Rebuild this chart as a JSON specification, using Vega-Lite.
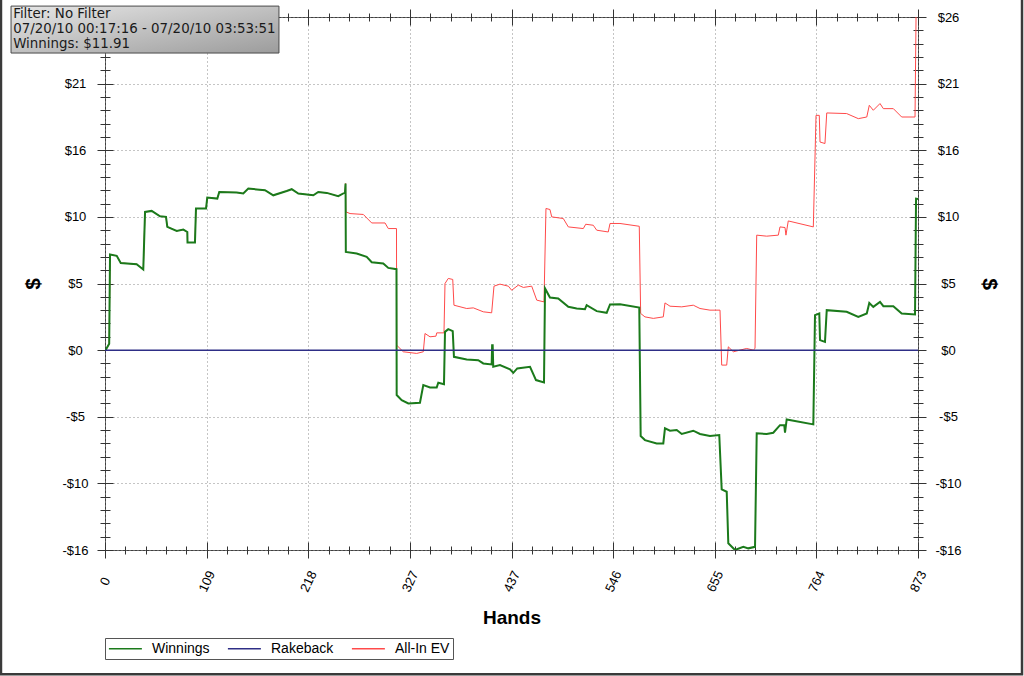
{
  "$schema": "https://vega.github.io/schema/vega-lite/v6.json",
  "width": 813,
  "height": 533,
  "autosize": {"type": "none"},
  "padding": {"left": 105, "top": 17, "right": 106, "bottom": 126},
  "background": "white",
  "datasets": {
    "winnings": [
      {"hand": 0, "value": 0}, {"hand": 1, "value": 0.05}, {"hand": 4.5, "value": 0.5}, {"hand": 5.4, "value": 7.53},
      {"hand": 12.6, "value": 7.43}, {"hand": 16.9, "value": 6.87}, {"hand": 34, "value": 6.77}, {"hand": 41.1, "value": 6.35},
      {"hand": 43, "value": 10.89}, {"hand": 50.1, "value": 10.97}, {"hand": 59.1, "value": 10.55}, {"hand": 65.5, "value": 10.5},
      {"hand": 66.9, "value": 9.71}, {"hand": 77, "value": 9.39}, {"hand": 84.1, "value": 9.5}, {"hand": 88.4, "value": 9.31},
      {"hand": 88.6, "value": 8.48}, {"hand": 96.6, "value": 8.48}, {"hand": 97.7, "value": 11.16}, {"hand": 108.5, "value": 11.16},
      {"hand": 109.8, "value": 12.02}, {"hand": 120.6, "value": 11.94}, {"hand": 122.7, "value": 12.46}, {"hand": 141.4, "value": 12.42},
      {"hand": 148.5, "value": 12.34}, {"hand": 153.9, "value": 12.73}, {"hand": 171.8, "value": 12.6}, {"hand": 180.7, "value": 12.2},
      {"hand": 195.1, "value": 12.54}, {"hand": 200.5, "value": 12.68}, {"hand": 207.6, "value": 12.34}, {"hand": 223.7, "value": 12.2},
      {"hand": 229, "value": 12.46}, {"hand": 238.1, "value": 12.39}, {"hand": 250.5, "value": 12.13}, {"hand": 257.7, "value": 12.42},
      {"hand": 258.3, "value": 13.13}, {"hand": 258.6, "value": 7.74}, {"hand": 270.3, "value": 7.61}, {"hand": 281, "value": 7.35},
      {"hand": 286.4, "value": 6.93}, {"hand": 298.8, "value": 6.83}, {"hand": 304.2, "value": 6.48}, {"hand": 313, "value": 6.38},
      {"hand": 313.2, "value": -3.54}, {"hand": 318.6, "value": -3.94}, {"hand": 325.7, "value": -4.2}, {"hand": 338.2, "value": -4.15},
      {"hand": 341.8, "value": -2.76}, {"hand": 349, "value": -2.94}, {"hand": 356.2, "value": -2.94}, {"hand": 357.9, "value": -2.57},
      {"hand": 364, "value": -2.68}, {"hand": 365.1, "value": 1.44}, {"hand": 368.6, "value": 1.65}, {"hand": 373.4, "value": 1.5},
      {"hand": 374.7, "value": -0.53}, {"hand": 388.4, "value": -0.73}, {"hand": 400.8, "value": -0.79}, {"hand": 406.2, "value": -1.05},
      {"hand": 415.2, "value": -1.13}, {"hand": 415.7, "value": 0.39}, {"hand": 416.3, "value": 0.39}, {"hand": 416.9, "value": -1.31},
      {"hand": 424.1, "value": -1.18}, {"hand": 434.9, "value": -1.52}, {"hand": 438.4, "value": -1.79}, {"hand": 442.7, "value": -1.44},
      {"hand": 456.4, "value": -1.31}, {"hand": 462.8, "value": -2.36}, {"hand": 471.4, "value": -2.54}, {"hand": 472.5, "value": 4.86},
      {"hand": 477.8, "value": 4.15}, {"hand": 486.7, "value": 4.07}, {"hand": 497.5, "value": 3.41}, {"hand": 506.5, "value": 3.28},
      {"hand": 515.4, "value": 3.23}, {"hand": 517.2, "value": 3.54}, {"hand": 528, "value": 3.07}, {"hand": 538.7, "value": 2.94},
      {"hand": 542.3, "value": 3.6}, {"hand": 553, "value": 3.62}, {"hand": 573.7, "value": 3.36}, {"hand": 575.2, "value": -6.77},
      {"hand": 579.8, "value": -7.09}, {"hand": 592.4, "value": -7.35}, {"hand": 599.5, "value": -7.35}, {"hand": 601.3, "value": -6.16},
      {"hand": 606.7, "value": -6.35}, {"hand": 613.9, "value": -6.3}, {"hand": 619.3, "value": -6.61}, {"hand": 631.7, "value": -6.35},
      {"hand": 638.9, "value": -6.61}, {"hand": 649.6, "value": -6.77}, {"hand": 659.6, "value": -6.69}, {"hand": 662.2, "value": -10.97},
      {"hand": 667.6, "value": -11.16}, {"hand": 669.3, "value": -15.22}, {"hand": 676.5, "value": -15.75}, {"hand": 685.4, "value": -15.5},
      {"hand": 690.8, "value": -15.62}, {"hand": 698, "value": -15.5}, {"hand": 699.8, "value": -6.56}, {"hand": 710.5, "value": -6.61},
      {"hand": 717.6, "value": -6.51}, {"hand": 724.8, "value": -5.91}, {"hand": 729.4, "value": -5.91}, {"hand": 730.2, "value": -6.51},
      {"hand": 732, "value": -5.46}, {"hand": 760.6, "value": -5.85}, {"hand": 762.4, "value": 2.76}, {"hand": 767, "value": 2.89},
      {"hand": 767.8, "value": 0.79}, {"hand": 773.1, "value": 0.65}, {"hand": 775, "value": 3.15}, {"hand": 796.4, "value": 3.02},
      {"hand": 808.9, "value": 2.62}, {"hand": 818, "value": 2.89}, {"hand": 820.7, "value": 3.72}, {"hand": 825, "value": 3.41},
      {"hand": 832.2, "value": 3.8}, {"hand": 835.8, "value": 3.46}, {"hand": 846.5, "value": 3.46}, {"hand": 855.5, "value": 2.89},
      {"hand": 869.8, "value": 2.81}, {"hand": 870.9, "value": 11.94}, {"hand": 873, "value": 11.91}
    ],
    "allin": [
      {"hand": 0, "value": 0}, {"hand": 1, "value": 0.05}, {"hand": 4.5, "value": 0.5}, {"hand": 5.4, "value": 7.53},
      {"hand": 12.6, "value": 7.43}, {"hand": 16.9, "value": 6.87}, {"hand": 34, "value": 6.77}, {"hand": 41.1, "value": 6.35},
      {"hand": 43, "value": 10.89}, {"hand": 50.1, "value": 10.97}, {"hand": 59.1, "value": 10.55}, {"hand": 65.5, "value": 10.5},
      {"hand": 66.9, "value": 9.71}, {"hand": 77, "value": 9.39}, {"hand": 84.1, "value": 9.5}, {"hand": 88.4, "value": 9.31},
      {"hand": 88.6, "value": 8.48}, {"hand": 96.6, "value": 8.48}, {"hand": 97.7, "value": 11.16}, {"hand": 108.5, "value": 11.16},
      {"hand": 109.8, "value": 12.02}, {"hand": 120.6, "value": 11.94}, {"hand": 122.7, "value": 12.46}, {"hand": 141.4, "value": 12.42},
      {"hand": 148.5, "value": 12.34}, {"hand": 153.9, "value": 12.73}, {"hand": 171.8, "value": 12.6}, {"hand": 180.7, "value": 12.2},
      {"hand": 195.1, "value": 12.54}, {"hand": 200.5, "value": 12.68}, {"hand": 207.6, "value": 12.34}, {"hand": 223.7, "value": 12.2},
      {"hand": 229, "value": 12.46}, {"hand": 238.1, "value": 12.39}, {"hand": 250.5, "value": 12.13}, {"hand": 257.7, "value": 12.42},
      {"hand": 258.3, "value": 13.13}, {"hand": 258.6, "value": 10.9}, {"hand": 263.1, "value": 10.76}, {"hand": 277.4, "value": 10.69},
      {"hand": 286.4, "value": 10.02}, {"hand": 300.7, "value": 10.02}, {"hand": 304.2, "value": 9.58}, {"hand": 313, "value": 9.58},
      {"hand": 313.2, "value": 0.39}, {"hand": 320.3, "value": -0.13}, {"hand": 334.7, "value": -0.26}, {"hand": 341.8, "value": -0.13},
      {"hand": 343.6, "value": 1.31}, {"hand": 349, "value": 1.05}, {"hand": 355.4, "value": 1.1}, {"hand": 356.2, "value": 1.36},
      {"hand": 364, "value": 1.36}, {"hand": 365.1, "value": 5.25}, {"hand": 368.6, "value": 5.65}, {"hand": 373.4, "value": 5.57},
      {"hand": 374.7, "value": 3.54}, {"hand": 388.4, "value": 3.28}, {"hand": 395.5, "value": 3.33}, {"hand": 406.2, "value": 3.02},
      {"hand": 415.2, "value": 2.94}, {"hand": 417.7, "value": 5.04}, {"hand": 424.1, "value": 5.2}, {"hand": 433.1, "value": 5.04},
      {"hand": 436.7, "value": 4.72}, {"hand": 443.8, "value": 5.12}, {"hand": 449.2, "value": 4.94}, {"hand": 458.2, "value": 5.04},
      {"hand": 463.6, "value": 3.94}, {"hand": 471.4, "value": 3.8}, {"hand": 473.5, "value": 11.16}, {"hand": 477.8, "value": 11.08},
      {"hand": 479.7, "value": 10.5}, {"hand": 492.1, "value": 10.37}, {"hand": 497.5, "value": 9.71}, {"hand": 513.6, "value": 9.58},
      {"hand": 516.2, "value": 9.92}, {"hand": 524.3, "value": 9.84}, {"hand": 528, "value": 9.45}, {"hand": 540.4, "value": 9.31},
      {"hand": 542.3, "value": 9.98}, {"hand": 553, "value": 9.98}, {"hand": 573.7, "value": 9.76}, {"hand": 575.2, "value": 2.89},
      {"hand": 579.8, "value": 2.62}, {"hand": 588.8, "value": 2.5}, {"hand": 599.5, "value": 2.62}, {"hand": 601.3, "value": 3.72},
      {"hand": 606.7, "value": 3.46}, {"hand": 619.3, "value": 3.41}, {"hand": 631.7, "value": 3.54}, {"hand": 638.9, "value": 3.28},
      {"hand": 649.6, "value": 3.15}, {"hand": 660.4, "value": 3.15}, {"hand": 662.2, "value": -1.18}, {"hand": 667.6, "value": -1.18},
      {"hand": 669.3, "value": 0.26}, {"hand": 674.7, "value": -0.13}, {"hand": 689, "value": 0.13}, {"hand": 696.1, "value": 0},
      {"hand": 698, "value": 0.13}, {"hand": 699.8, "value": 9.06}, {"hand": 710.5, "value": 8.98}, {"hand": 723, "value": 9.06},
      {"hand": 724.8, "value": 9.71}, {"hand": 730.2, "value": 9.66}, {"hand": 731.2, "value": 9.06}, {"hand": 733.7, "value": 10.18},
      {"hand": 760.6, "value": 9.71}, {"hand": 763.5, "value": 18.5}, {"hand": 767, "value": 18.5}, {"hand": 767.8, "value": 16.4},
      {"hand": 773.1, "value": 16.28}, {"hand": 775, "value": 18.69}, {"hand": 796.4, "value": 18.64}, {"hand": 808.9, "value": 18.24},
      {"hand": 818, "value": 18.37}, {"hand": 820.7, "value": 19.29}, {"hand": 825, "value": 18.9}, {"hand": 832.2, "value": 19.43},
      {"hand": 835.8, "value": 19.03}, {"hand": 846.5, "value": 19.03}, {"hand": 855.5, "value": 18.37}, {"hand": 869.8, "value": 18.37},
      {"hand": 870.9, "value": 26.25}
    ],
    "rakeback": [{"hand": 0, "value": 0}, {"hand": 873, "value": 0}]
  },
  "layer": [
    {
      "encoding": {
        "x": {
          "field": "hand", "type": "quantitative",
          "scale": {"domain": [0, 873], "nice": false, "zero": false},
          "axis": {
            "orient": "bottom", "offset": -8, "tickSize": 16, "grid": true,
            "values": [0, 109.125, 218.25, 327.375, 436.5, 545.625, 654.75, 763.875, 873],
            "labelExpr": "'' + round(datum.value)",
            "labelAngle": -65, "labelAlign": "center", "labelBaseline": "middle", "labelPadding": 23,
            "title": "Hands", "titleFontSize": 19, "titlePadding": 15
          }
        },
        "y": {
          "field": "value", "type": "quantitative",
          "scale": {"domain": [-15.75, 26.25], "nice": false, "zero": false},
          "axis": {
            "orient": "left", "offset": -8, "tickSize": 16, "grid": true,
            "values": [-15.75, -10.5, -5.25, 0, 5.25, 10.5, 15.75, 21, 26.25],
            "labelExpr": "(datum.value < -0.01 ? '-$' : '$') + floor(abs(datum.value) + 0.49)",
            "labelAlign": "center", "labelPadding": 22,
            "title": "$", "titleFontSize": 21, "titlePadding": 18
          }
        }
      },
      "layer": [
        {
          "data": {"name": "allin"},
          "mark": {"type": "line", "strokeWidth": 1, "clip": true},
          "encoding": {
            "color": {
              "datum": "All-In EV", "type": "nominal",
              "scale": {"domain": ["Winnings", "Rakeback", "All-In EV"], "range": ["#1b7a1b", "#2e2e86", "#ff4a4a"]},
              "legend": {"title": null}
            }
          }
        },
        {
          "data": {"name": "winnings"},
          "mark": {"type": "line", "strokeWidth": 2, "clip": true},
          "encoding": {
            "color": {
              "datum": "Winnings", "type": "nominal",
              "scale": {"domain": ["Winnings", "Rakeback", "All-In EV"], "range": ["#1b7a1b", "#2e2e86", "#ff4a4a"]},
              "legend": {"title": null}
            }
          }
        }
      ]
    },
    {
      "data": {"name": "rakeback"},
      "mark": {"type": "line", "strokeWidth": 1.5},
      "encoding": {
        "x": {
          "field": "hand", "type": "quantitative",
          "scale": {"domain": [0, 873], "nice": false, "zero": false},
          "axis": {
            "orient": "top", "offset": -8, "tickSize": 16, "grid": false, "labels": false, "title": null,
            "values": [0, 109.125, 218.25, 327.375, 436.5, 545.625, 654.75, 763.875, 873]
          }
        },
        "y": {
          "field": "value", "type": "quantitative",
          "scale": {"domain": [-15.75, 26.25], "nice": false, "zero": false},
          "axis": {
            "orient": "right", "offset": -8, "tickSize": 16, "grid": false,
            "values": [-15.75, -10.5, -5.25, 0, 5.25, 10.5, 15.75, 21, 26.25],
            "labelExpr": "(datum.value < -0.01 ? '-$' : '$') + floor(abs(datum.value) + 0.49)",
            "labelAlign": "center", "labelPadding": 22,
            "title": "$", "titleFontSize": 21, "titlePadding": 17
          }
        },
        "color": {
          "datum": "Rakeback", "type": "nominal",
          "scale": {"domain": ["Winnings", "Rakeback", "All-In EV"], "range": ["#1b7a1b", "#2e2e86", "#ff4a4a"]},
          "legend": {"title": null}
        }
      }
    },
    {
      "data": {"name": "rakeback"},
      "mark": {"type": "line", "strokeOpacity": 0},
      "encoding": {
        "x": {
          "field": "hand", "type": "quantitative",
          "scale": {"domain": [0, 873], "nice": false, "zero": false},
          "axis": {
            "orient": "bottom", "offset": -4, "tickSize": 8, "grid": false, "labels": false, "title": null,
            "values": [21.825, 43.65, 65.475, 87.3, 130.95, 152.775, 174.6, 196.425, 240.075, 261.9, 283.725, 305.55, 349.2, 371.025, 392.85, 414.675, 458.325, 480.15, 501.975, 523.8, 567.45, 589.275, 611.1, 632.925, 676.575, 698.4, 720.225, 742.05, 785.7, 807.525, 829.35, 851.175]
          }
        },
        "y": {
          "field": "value", "type": "quantitative",
          "scale": {"domain": [-15.75, 26.25], "nice": false, "zero": false},
          "axis": {
            "orient": "left", "offset": -5, "tickSize": 10, "grid": false, "labels": false, "title": null,
            "values": [-14.7, -13.65, -12.6, -11.55, -9.45, -8.4, -7.35, -6.3, -4.2, -3.15, -2.1, -1.05, 1.05, 2.1, 3.15, 4.2, 6.3, 7.35, 8.4, 9.45, 11.55, 12.6, 13.65, 14.7, 16.8, 17.85, 18.9, 19.95, 22.05, 23.1, 24.15, 25.2]
          }
        }
      }
    },
    {
      "data": {"name": "rakeback"},
      "mark": {"type": "line", "strokeOpacity": 0},
      "encoding": {
        "x": {
          "field": "hand", "type": "quantitative",
          "scale": {"domain": [0, 873], "nice": false, "zero": false},
          "axis": {
            "orient": "top", "offset": -4, "tickSize": 8, "grid": false, "labels": false, "title": null,
            "values": [21.825, 43.65, 65.475, 87.3, 130.95, 152.775, 174.6, 196.425, 240.075, 261.9, 283.725, 305.55, 349.2, 371.025, 392.85, 414.675, 458.325, 480.15, 501.975, 523.8, 567.45, 589.275, 611.1, 632.925, 676.575, 698.4, 720.225, 742.05, 785.7, 807.525, 829.35, 851.175]
          }
        },
        "y": {
          "field": "value", "type": "quantitative",
          "scale": {"domain": [-15.75, 26.25], "nice": false, "zero": false},
          "axis": {
            "orient": "right", "offset": -5, "tickSize": 10, "grid": false, "labels": false, "title": null,
            "values": [-14.7, -13.65, -12.6, -11.55, -9.45, -8.4, -7.35, -6.3, -4.2, -3.15, -2.1, -1.05, 1.05, 2.1, 3.15, 4.2, 6.3, 7.35, 8.4, 9.45, 11.55, 12.6, 13.65, 14.7, 16.8, 17.85, 18.9, 19.95, 22.05, 23.1, 24.15, 25.2]
          }
        }
      }
    },
    {
      "data": {"values": [{}]},
      "mark": {"type": "rect", "fill": null, "stroke": "#3a3a3a", "strokeWidth": 2.5},
      "encoding": {
        "x": {"datum": -111.7, "type": "quantitative", "scale": {"domain": [0, 873], "nice": false, "zero": false}, "axis": null},
        "x2": {"datum": 984.7},
        "y": {"datum": 27.8, "type": "quantitative", "scale": {"domain": [-15.75, 26.25], "nice": false, "zero": false}, "axis": null},
        "y2": {"datum": -25.55}
      }
    },
    {
      "data": {"values": [{}]},
      "mark": {
        "type": "rect", "stroke": "#4a4a4a", "strokeWidth": 1,
        "fill": {"gradient": "linear", "x1": 0, "y1": 0, "x2": 1, "y2": 1, "stops": [{"offset": 0, "color": "#e6e6e6"}, {"offset": 1, "color": "#9c9c9c"}]}
      },
      "encoding": {
        "x": {"datum": -100.9, "type": "quantitative", "scale": {"domain": [0, 873], "nice": false, "zero": false}, "axis": null},
        "x2": {"datum": 186.8},
        "y": {"datum": 27.11, "type": "quantitative", "scale": {"domain": [-15.75, 26.25], "nice": false, "zero": false}, "axis": null},
        "y2": {"datum": 23.41}
      }
    },
    {
      "data": {"values": [{}]},
      "mark": {"type": "text", "align": "left", "baseline": "top", "font": "DejaVu Sans", "fontSize": 13.4, "lineHeight": 15, "color": "#1a1a1a"},
      "encoding": {
        "x": {"datum": -98.6, "type": "quantitative", "scale": {"domain": [0, 873], "nice": false, "zero": false}, "axis": null},
        "y": {"datum": 27.03, "type": "quantitative", "scale": {"domain": [-15.75, 26.25], "nice": false, "zero": false}, "axis": null},
        "text": {"value": ["Filter: No Filter", "07/20/10 00:17:16 - 07/20/10 03:53:51", "Winnings: $11.91"]}
      }
    }
  ],
  "resolve": {"axis": {"x": "independent", "y": "independent"}},
  "config": {
    "font": "Liberation Sans",
    "view": {"stroke": "#404040", "strokeWidth": 1},
    "axis": {
      "domain": false,
      "labelFont": "Liberation Sans", "labelFontSize": 13, "labelColor": "#000",
      "tickColor": "#333", "tickWidth": 1,
      "gridColor": "#8a8a8a", "gridDash": [1, 3], "gridWidth": 1, "gridOpacity": 1,
      "titleFont": "Liberation Sans", "titleFontWeight": "bold", "titleColor": "#000"
    },
    "legend": {
      "orient": "bottom", "direction": "horizontal",
      "symbolType": "M-1,0H4", "symbolSize": 174, "symbolStrokeWidth": 1.5,
      "labelFont": "Liberation Sans", "labelFontSize": 14, "labelColor": "#000",
      "columnPadding": 14, "labelOffset": 29, "padding": 3,
      "strokeColor": "#555", "fillColor": "#fff", "offset": 10
    }
  }
}
